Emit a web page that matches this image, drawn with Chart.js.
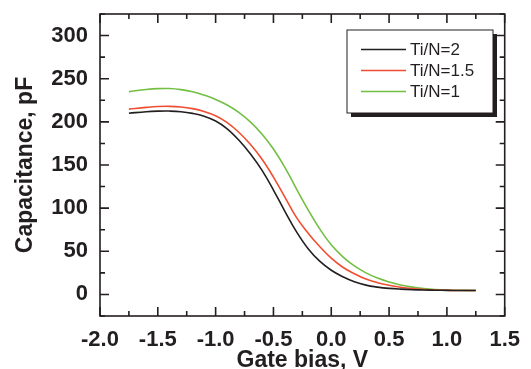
<!DOCTYPE html>
<html>
<head>
<meta charset="utf-8">
<script src="https://cdn.jsdelivr.net/npm/chart.js@4.4.0/dist/chart.umd.min.js"></script>
<style>
  html, body { margin: 0; padding: 0; background: #fff; }
  #wrap { width: 531px; height: 369px; }
</style>
</head>
<body>
<div id="wrap"><canvas id="myChart" width="531" height="369"></canvas></div>
<script>
"use strict";

// напряжение на затворе, V
const gateBias = [-1.75, -1.6, -1.5, -1.4, -1.3, -1.2, -1.1, -1.0, -0.9, -0.8, -0.7, -0.6, -0.5, -0.4, -0.3,
    -0.2, -0.1, 0.0, 0.1, 0.2, 0.3, 0.4, 0.5, 0.6, 0.7, 0.8, 0.9, 1.0, 1.1, 1.25];

// ёмкость, pF
const capTiN2 = [210, 211.8, 212.4, 212.5, 211.8, 209.8, 206.5, 201, 192, 179, 163, 144, 121, 96, 72.5,
    53, 38.5, 28, 20.5, 14.7, 10.8, 8.5, 7, 6.1, 5.5, 5.1, 4.9, 4.7, 4.6, 4.6];
const capTiN15 = [214.8, 216.8, 217.8, 218, 217.3, 215.3, 212, 207, 199, 188, 174, 157, 136, 112.5, 89,
    71, 55.5, 42, 31.5, 24, 17.8, 13.6, 10.6, 8.4, 6.8, 5.8, 5.1, 4.8, 4.6, 4.6];
const capTiN1 = [235, 237.5, 238.5, 238.6, 237.4, 235, 231, 226, 219.5, 211, 200, 186, 168.5, 147, 122,
    98, 76, 57.5, 43.5, 33, 25, 19, 14.5, 11, 8.5, 6.8, 5.7, 5.1, 4.8, 4.6];

const seriesNames = ['Ti/N=2', 'Ti/N=1.5', 'Ti/N=1'];
const seriesColors = ['#231f20', '#f04e30', '#72bf44'];

const xMajorTicks = [-2.0, -1.5, -1.0, -0.5, 0.0, 0.5, 1.0, 1.5];
const xMinorTicks = [-1.75, -1.25, -0.75, -0.25, 0.25, 0.75, 1.25];
const yMajorTicks = [0, 50, 100, 150, 200, 250, 300];
const yMinorTicks = [-25, 25, 75, 125, 175, 225, 275, 325];

const ink = '#231f20';
const fontFamily = '"Liberation Sans", Arial, sans-serif';

function toPoints(xs, ys) {
    return xs.map((x, i) => ({x: x, y: ys[i]}));
}

// рамка и засечки внутрь со всех четырёх сторон
const frameAndTicks = {
    id: 'frameAndTicks',
    afterDatasetsDraw(chart) {
        const ctx = chart.ctx;
        const a = chart.chartArea;
        const x = chart.scales.x;
        const y = chart.scales.y;
        ctx.save();
        ctx.strokeStyle = ink;
        ctx.lineWidth = 1.6;
        ctx.beginPath();
        const tick = (v, len, horiz) => {
            if (horiz) {
                const px = x.getPixelForValue(v);
                ctx.moveTo(px, a.bottom); ctx.lineTo(px, a.bottom - len);
                ctx.moveTo(px, a.top); ctx.lineTo(px, a.top + len);
            } else {
                const py = y.getPixelForValue(v);
                ctx.moveTo(a.left, py); ctx.lineTo(a.left + len, py);
                ctx.moveTo(a.right, py); ctx.lineTo(a.right - len, py);
            }
        };
        xMajorTicks.forEach(v => tick(v, 9, true));
        xMinorTicks.forEach(v => tick(v, 5, true));
        yMajorTicks.forEach(v => tick(v, 9, false));
        yMinorTicks.forEach(v => tick(v, 5, false));
        ctx.stroke();
        ctx.strokeRect(a.left, a.top, a.right - a.left, a.bottom - a.top);
        ctx.restore();
    }
};

// легенда в рамке с тенью
const boxLegend = {
    id: 'boxLegend',
    afterDraw(chart) {
        const ctx = chart.ctx;
        const bx = 347, by = 30, bw = 146, bh = 83;
        ctx.save();
        ctx.fillStyle = ink;
        ctx.fillRect(bx + 4, by + 4, bw, bh);
        ctx.fillStyle = '#fff';
        ctx.fillRect(bx, by, bw, bh);
        ctx.strokeStyle = ink;
        ctx.lineWidth = 1;
        ctx.strokeRect(bx, by, bw, bh);
        ctx.font = '17px ' + fontFamily;
        ctx.textBaseline = 'middle';
        chart.data.datasets.forEach((ds, i) => {
            const ly = 49.5 + i * 21;
            ctx.strokeStyle = ds.borderColor;
            ctx.lineWidth = 1.6;
            ctx.beginPath();
            ctx.moveTo(361, ly);
            ctx.lineTo(406, ly);
            ctx.stroke();
            ctx.fillStyle = ink;
            ctx.fillText(ds.label, 410, ly + 1);
        });
        ctx.restore();
    }
};

const ctx = document.getElementById('myChart');
const myChart = new Chart(ctx, {
    type: 'line',
    data: {
        datasets: [
            {label: seriesNames[0], data: toPoints(gateBias, capTiN2), borderColor: seriesColors[0]},
            {label: seriesNames[1], data: toPoints(gateBias, capTiN15), borderColor: seriesColors[1]},
            {label: seriesNames[2], data: toPoints(gateBias, capTiN1), borderColor: seriesColors[2]}
        ]
    },
    options: {
        responsive: false,
        animation: false,
        layout: {padding: {top: 14, right: 20, left: 0, bottom: 0}},
        elements: {
            line: {borderWidth: 1.6, tension: 0.4, fill: false},
            point: {radius: 0}
        },
        plugins: {
            legend: {display: false},
            tooltip: {enabled: false}
        },
        scales: {
            x: {
                type: 'linear',
                min: -2,
                max: 1.5,
                grid: {display: false, drawTicks: false},
                border: {display: false},
                afterBuildTicks: s => { s.ticks = xMajorTicks.map(v => ({value: v})); },
                afterFit: s => { s.height = 53; },
                ticks: {
                    padding: 11,
                    color: ink,
                    font: {family: fontFamily, size: 22, weight: 'bold'},
                    callback: v => v.toFixed(1)
                },
                title: {
                    display: true,
                    text: 'Gate bias, V',
                    color: ink,
                    padding: 0,
                    font: {family: fontFamily, size: 23, weight: 'bold', lineHeight: 0.7}
                }
            },
            y: {
                min: -25,
                max: 325,
                grid: {display: false, drawTicks: false},
                border: {display: false},
                afterBuildTicks: s => { s.ticks = yMajorTicks.map(v => ({value: v})); },
                afterFit: s => { s.width = 100; s.paddingTop = 0; s.paddingBottom = 0; },
                ticks: {
                    padding: 12,
                    color: ink,
                    font: {family: fontFamily, size: 22, weight: 'bold'}
                },
                title: {
                    display: true,
                    text: 'Capacitance, pF',
                    color: ink,
                    padding: {top: 14, bottom: 0},
                    font: {family: fontFamily, size: 23, weight: 'bold', lineHeight: 1}
                }
            }
        }
    },
    plugins: [frameAndTicks, boxLegend]
});
</script>
</body>
</html>
